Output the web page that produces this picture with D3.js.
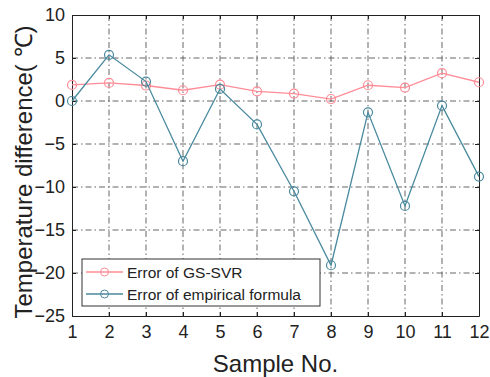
<!DOCTYPE html>
<html>
<head>
<meta charset="utf-8">
<script src="https://cdn.jsdelivr.net/npm/d3@7"></script>
<style>
  body { margin: 0; background: #fff; }
  text { font-family: Arial, "Liberation Sans", sans-serif; fill: #222; }
</style>
</head>
<body>
<div id="chart"></div>
<script>
let samples = [1, 2, 3, 4, 5, 6, 7, 8, 9, 10, 11, 12]
let gsSvr = [1.87, 2.1, 1.8, 1.25, 1.9, 1.13, 0.86, 0.23, 1.83, 1.56, 3.23, 2.18]
let empirical = [0, 5.37, 2.26, -7.0, 1.4, -2.72, -10.5, -19.1, -1.32, -12.2, -0.54, -8.79]
let yTicks = [10, 5, 0, -5, -10, -15, -20, -25]
let seriesNames = ['Error of GS-SVR', 'Error of empirical formula']

let width = 490, height = 377
let margin = {top: 15, right: 11, bottom: 61, left: 72}
let colors = ['#ff8c96', '#4a8a9e']

let svg = d3.select('#chart').append('svg')
  .attr('width', width)
  .attr('height', height)

let x = d3.scaleLinear()
  .domain([1, 12])
  .range([margin.left, width - margin.right])

let y = d3.scaleLinear()
  .domain([-25, 10])
  .range([height - margin.bottom, margin.top])

// grid
let grid = svg.append('g')
grid.selectAll('.vgrid')
  .data(samples.slice(1, -1))
  .enter().append('line')
  .attr('x1', d => x(d)).attr('x2', d => x(d))
  .attr('y1', y(10)).attr('y2', y(-25))
  .attr('stroke', '#555')
  .attr('stroke-width', 0.9)
  .attr('stroke-dasharray', '6,3,1.5,3')
grid.selectAll('.hgrid')
  .data(yTicks.slice(1, -1))
  .enter().append('line')
  .attr('y1', d => y(d)).attr('y2', d => y(d))
  .attr('x1', x(1)).attr('x2', x(12))
  .attr('stroke', '#555')
  .attr('stroke-width', 0.9)
  .attr('stroke-dasharray', '6,3,1.5,3')

// axes
let xAxis = d3.axisBottom(x).tickValues(samples).tickSizeInner(-4).tickSizeOuter(0).tickPadding(9)
let yAxis = d3.axisLeft(y).tickValues(yTicks).tickSizeInner(-4).tickSizeOuter(0).tickPadding(7)

svg.append('g')
  .attr('transform', 'translate(0,' + y(-25) + ')')
  .call(xAxis)
  .call(g => g.selectAll('text').style('font-size', '18px').attr('fill', '#222'))
svg.append('g')
  .attr('transform', 'translate(' + x(1) + ',0)')
  .call(yAxis)
  .call(g => g.selectAll('text').style('font-size', '18px').attr('fill', '#222'))
svg.append('g')
  .attr('transform', 'translate(0,' + y(10) + ')')
  .call(d3.axisTop(x).tickValues(samples).tickSizeInner(-4).tickSizeOuter(0).tickFormat(''))
svg.append('g')
  .attr('transform', 'translate(' + x(12) + ',0)')
  .call(d3.axisRight(y).tickValues(yTicks).tickSizeInner(-4).tickSizeOuter(0).tickFormat(''))
svg.selectAll('.domain').attr('stroke', '#222')
svg.selectAll('.tick line').attr('stroke', '#222')

// series
let series = [gsSvr, empirical]
let line = d3.line()
  .x((d, i) => x(samples[i]))
  .y(d => y(d))

series.forEach(function (vals, s) {
  svg.append('path')
    .datum(vals)
    .attr('d', line)
    .attr('fill', 'none')
    .attr('stroke', colors[s])
    .attr('stroke-width', 1.3)
  svg.append('g').selectAll('circle')
    .data(vals)
    .enter().append('circle')
    .attr('cx', (d, i) => x(samples[i]))
    .attr('cy', d => y(d))
    .attr('r', 4.5)
    .attr('fill', 'none')
    .attr('stroke', colors[s])
    .attr('stroke-width', 1.2)
})

// legend
let legend = svg.append('g')
legend.append('rect')
  .attr('x', 82).attr('y', 259)
  .attr('width', 238).attr('height', 47)
  .attr('fill', '#fff')
  .attr('stroke', '#333')
  .attr('stroke-width', 1)
seriesNames.forEach(function (name, s) {
  let ly = 272 + s * 22
  legend.append('line')
    .attr('x1', 86).attr('x2', 123)
    .attr('y1', ly).attr('y2', ly)
    .attr('stroke', colors[s])
    .attr('stroke-width', 1.3)
  legend.append('circle')
    .attr('cx', 104.5).attr('cy', ly)
    .attr('r', 4)
    .attr('fill', 'none')
    .attr('stroke', colors[s])
  legend.append('text')
    .attr('x', 127).attr('y', ly + 5.5)
    .style('font-size', '15.5px')
    .text(name)
})

// axis titles
svg.append('text')
  .attr('x', x(6.5)).attr('y', 372)
  .attr('text-anchor', 'middle')
  .style('font-size', '24px')
  .text('Sample No.')
svg.append('text')
  .attr('transform', 'translate(32,172) rotate(-90)')
  .attr('text-anchor', 'middle')
  .style('font-size', '24px')
  .text('Temperature difference( ℃)')
</script>
</body>
</html>
